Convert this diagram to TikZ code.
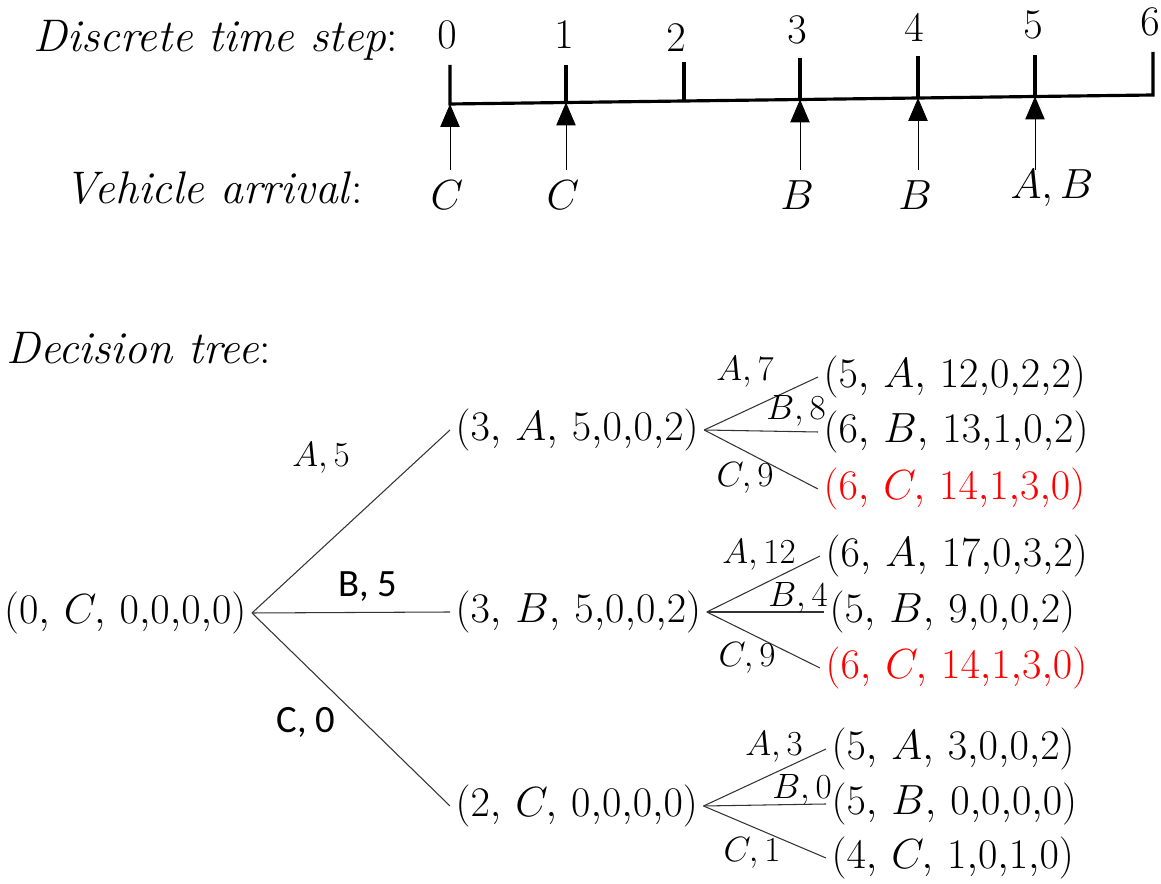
\RequirePackage{fix-cm}
\documentclass[tikz,border=0pt]{standalone}
\usepackage{fontspec}
\newfontfamily\calibri{Carlito}
\usepackage{tikz}
\usetikzlibrary{arrows.meta,calc,positioning}
\tikzset{
    mystate/.style={anchor=west,inner sep=3pt,font=\fontsize{24}{28}\selectfont},
    mytitle/.style={inner sep=0pt,font=\fontsize{26}{30}\selectfont},
    mynum/.style={inner sep=0pt,font=\fontsize{24}{28}\selectfont},
    mylabel/.style={inner sep=0pt,font=\fontsize{20}{24}\selectfont},
    mysans/.style={inner sep=0pt,font=\calibri\fontsize{22}{26}\selectfont},
    mybranch/.style={line width=0.6pt,draw=black!80},
    myaxis/.style={line width=1.8pt,draw=black,line join=miter},
    myarrival/.style={line width=0.5pt,-{Triangle[width=11pt,length=13pt]}},
    every node/.style={font=\fontsize{24}{28}\selectfont}
}

\begin{document}
\begin{tikzpicture}[x=0.02cm,y=-0.02cm]
  \useasboundingbox (0,0) rectangle (1161,884);

  % 时间轴的刻度点
  \foreach \i/\x/\yb/\yt in {0/450/104/65,1/566/102.5/65,2/684/101/62,
      3/800/99.5/58,4/918/98/56,5/1035/96.5/55,6/1153/95/52}{
    \coordinate (b\i) at (\x,\yb);
    \coordinate (t\i) at (\x,\yt);
  }

  % 时间轴
  \draw[myaxis] (t0)--(b0)--(b6)--(t6);
  \foreach \i in {1,...,5}{
    \draw[myaxis] (b\i)--(t\i);
  }

  % 时间步编号
  \foreach \i/\x/\y in {0/447/35,1/564/35,2/676/38,3/797/30,
      4/914/28,5/1033/25,6/1150/22}{
    \node[mynum] (n\i) at (\x,\y) {$\i$};
  }

  \node[mytitle] (steptxt) at (216,40) {\textit{Discrete time step}:};
  \node[mytitle] (arrtxt) at (214,188) {\textit{Vehicle arrival}:};

  % 车辆到达
  \foreach \i/\x/\v in {0/450/C,1/566/C,3/800/B,4/918/B}{
    \coordinate (s\i) at (\x,170);
    \node[mynum] (v\i) at (\x-3,195) {$\v$};
    \draw[myarrival] (s\i)--(b\i);
  }
  \coordinate (s5) at (1035,170);
  \node[mynum] (v5) at (1052,188) {$A,B$};
  \draw[myarrival] (s5)--(b5);

  % 决策树
  \node[mytitle,anchor=west] (treetxt) at (6,348) {\textit{Decision tree}:};

  \node[mystate,anchor=east] (r) at (252,613) {$(0,\,C,\,0{,}0{,}0{,}0)$};

  \node[mystate] (sa) at (450,430) {$(3,\,A,\,5{,}0{,}0{,}2)$};
  \node[mystate] (sb) at (450,612) {$(3,\,B,\,5{,}0{,}0{,}2)$};
  \node[mystate] (sc) at (450,806) {$(2,\,C,\,0{,}0{,}0{,}0)$};

  \node[mystate] (la1) at (818,377) {$(5,\,A,\,12{,}0{,}2{,}2)$};
  \node[mystate] (la2) at (818,432) {$(6,\,B,\,13{,}1{,}0{,}2)$};
  \node[mystate,text=red] (la3) at (818,489) {$(6,\,C,\,14{,}1{,}3{,}0)$};

  \node[mystate] (lb1) at (820,556) {$(6,\,A,\,17{,}0{,}3{,}2)$};
  \node[mystate] (lb2) at (824,612) {$(5,\,B,\,9{,}0{,}0{,}2)$};
  \node[mystate,text=red] (lb3) at (820,668) {$(6,\,C,\,14{,}1{,}3{,}0)$};

  \node[mystate] (lc1) at (826,749) {$(5,\,A,\,3{,}0{,}0{,}2)$};
  \node[mystate] (lc2) at (826,804) {$(5,\,B,\,0{,}0{,}0{,}0)$};
  \node[mystate] (lc3) at (826,858) {$(4,\,C,\,1{,}0{,}1{,}0)$};

  % 分支
  \foreach \c in {sa,sb,sc}{
    \draw[mybranch] (r.east)--(\c.west);
  }
  \foreach \p in {a,b,c}{
    \foreach \k in {1,2,3}{
      \draw[mybranch] (s\p.east)--(l\p\k.west);
    }
  }

  % 分支标签
  \node[mylabel] (ea) at (321,458) {$A, 5$};
  \node[mysans] (eb) at (368,587) {B, 5};
  \node[mysans] (ec) at (306,722) {C, 0};

  \node[mylabel] (ea1) at (745,372) {$A, 7$};
  \node[mylabel] (ea2) at (796,411) {$B, 8$};
  \node[mylabel] (ea3) at (745,478) {$C, 9$};

  \node[mylabel] (eb1) at (759,555) {$A, 12$};
  \node[mylabel] (eb2) at (798,598) {$B, 4$};
  \node[mylabel] (eb3) at (747,658) {$C, 9$};

  \node[mylabel] (ec1) at (774,747) {$A, 3$};
  \node[mylabel] (ec2) at (802,790) {$B, 0$};
  \node[mylabel] (ec3) at (752,853) {$C, 1$};

\end{tikzpicture}
\end{document}
